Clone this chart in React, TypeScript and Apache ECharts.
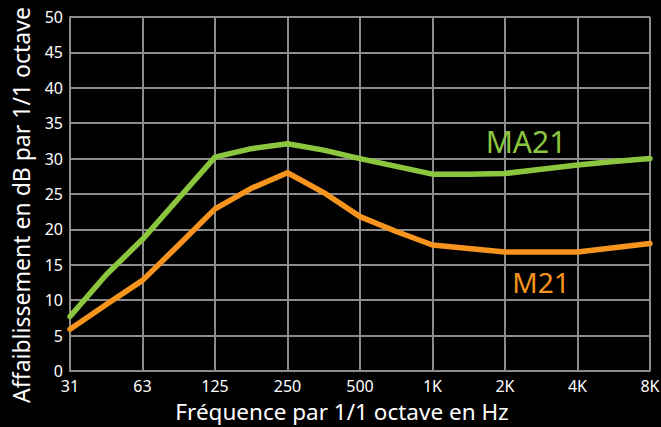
import React, { useEffect, useRef } from "react";
import * as echarts from "echarts";

// half-octave steps; only the octave bands carry labels and grid lines
const categories = ["31", "45", "63", "90", "125", "180", "250", "355", "500", "710", "1K", "1.4K", "2K", "2.8K", "4K", "5.6K", "8K"];
const ma21 = [7.7, 13.6, 18.6, 24.4, 30.2, 31.4, 32.1, 31.2, 30.0, 28.9, 27.8, 27.8, 27.9, 28.5, 29.1, 29.6, 30.0];
const m21 = [5.9, 9.4, 12.8, 17.8, 22.9, 25.8, 28.0, 25.2, 21.8, 19.7, 17.8, 17.3, 16.8, 16.8, 16.8, 17.4, 18.0];
const yTicks = { min: 0, max: 50, interval: 5 };
const xName = "Fréquence par 1/1 octave en Hz";
const yName = "Affaiblissement en dB par 1/1 octave";
const seriesNames = ["MA21", "M21"];

const GREEN = "#8cc63f";
const ORANGE = "#f7941d";
const GRID = "#8c8c8c";
const FONT = "Noto Sans";

export default function App() {
  const ref = useRef<HTMLDivElement>(null);
  useEffect(() => {
    if (!ref.current) return;
    const chart = echarts.init(ref.current, null, { renderer: "svg" });
    chart.setOption({
      animation: false,
      backgroundColor: "#000",
      textStyle: { fontFamily: FONT },
      grid: { left: 70, right: 11, top: 17, bottom: 56, containLabel: false, outerBoundsMode: "none" },
      xAxis: {
        type: "category",
        data: categories,
        boundaryGap: false,
        axisLine: { lineStyle: { color: GRID, width: 2 } },
        axisTick: { show: false },
        axisLabel: { interval: 1, color: "#fff", fontSize: 16, margin: 7, fontFamily: FONT },
        splitLine: { show: true, interval: 1, lineStyle: { color: GRID, width: 2 } },
      },
      yAxis: {
        type: "value",
        min: yTicks.min,
        max: yTicks.max,
        interval: yTicks.interval,
        axisLine: { show: true, lineStyle: { color: GRID, width: 2 } },
        axisTick: { show: false },
        axisLabel: { color: "#fff", fontSize: 16, margin: 7, fontFamily: FONT },
        splitLine: { show: true, lineStyle: { color: GRID, width: 2 } },
      },
      series: [
        {
          name: seriesNames[0],
          type: "line",
          data: ma21,
          symbol: "none",
          lineStyle: { color: GREEN, width: 5.5, cap: "round", join: "round" },
          z: 3,
        },
        {
          name: seriesNames[1],
          type: "line",
          data: m21,
          symbol: "none",
          lineStyle: { color: ORANGE, width: 5.5, cap: "round", join: "round" },
          z: 3,
        },
      ],
      graphic: [
        {
          type: "text",
          x: 526,
          y: 141,
          z: 10,
          style: { text: seriesNames[0], fill: GREEN, font: `30px "${FONT}"`, textAlign: "center", textVerticalAlign: "middle" },
        },
        {
          type: "text",
          x: 541,
          y: 282,
          z: 10,
          style: { text: seriesNames[1], fill: ORANGE, font: `28px "${FONT}"`, textAlign: "center", textVerticalAlign: "middle" },
        },
        {
          type: "text",
          x: 342,
          y: 411,
          z: 10,
          style: { text: xName, fill: "#fff", font: `22.5px "${FONT}"`, lineHeight: 22, textAlign: "center", textVerticalAlign: "middle" },
        },
        {
          type: "text",
          x: 21,
          y: 205,
          rotation: Math.PI / 2,
          z: 10,
          style: { text: yName, fill: "#fff", font: `23px "${FONT}"`, lineHeight: 22, textAlign: "center", textVerticalAlign: "middle" },
        },
      ],
    });
    return () => chart.dispose();
  }, []);
  return (
    <div
      ref={ref}
      style={{ position: "fixed", left: 0, top: 0, width: 661, height: 427, background: "#000" }}
    />
  );
}
